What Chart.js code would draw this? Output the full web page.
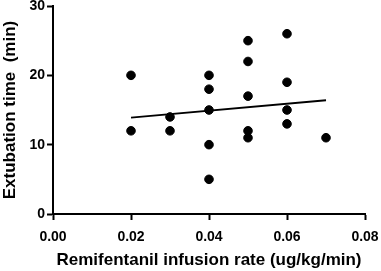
<!DOCTYPE html>
<html><head><meta charset="utf-8">
<script src="https://cdn.jsdelivr.net/npm/chart.js@4"></script>
<style>html,body{margin:0;padding:0;background:#fff}#wrap{width:381px;height:271px}</style>
</head><body><div id="wrap"><canvas id="c" width="381" height="271"></canvas></div>
<script>
const rates = [0.02,0.02,0.03,0.03,0.04,0.04,0.04,0.04,0.04,0.05,0.05,0.05,0.05,0.05,0.06,0.06,0.06,0.06,0.07];
const times = [20,12,14,12,20,18,15,10,5,25,22,17,12,11,26,19,15,13,11];
const fitX = [0.02,0.07];
const fitY = [13.9,16.4];
const xTickLabels = ['0.00','0.02','0.04','0.06','0.08'];
const yTickLabels = ['0','10','20','30'];
const xTitle = 'Remifentanil infusion rate (ug/kg/min)';
const yTitle = 'Extubation time  (min)';

const font = 'Arial, "Liberation Sans", sans-serif';
new Chart(document.getElementById('c'), {
  type: 'scatter',
  data: {
    datasets: [
      { data: rates.map((x,i)=>({x, y: times[i]})), backgroundColor:'#000', borderColor:'#000', pointRadius:4.3, pointHoverRadius:4.3 },
      { type:'line', data: fitX.map((x,i)=>({x, y: fitY[i]})), borderColor:'#000', borderWidth:2, pointRadius:0, fill:false }
    ]
  },
  options: {
    responsive:false, animation:false,
    layout:{ padding:{ top:6, right:16, left:0, bottom:0 } },
    plugins:{ legend:{display:false}, tooltip:{enabled:false} },
    scales:{
      x:{ type:'linear', min:0, max:0.08,
        afterBuildTicks: s => { s.ticks = xTickLabels.map(t=>({value:parseFloat(t)})); },
        ticks:{ callback:(v,i)=>xTickLabels[i], color:'#000', font:{family:font, size:14, weight:'bold'}, padding:9, maxRotation:0 },
        grid:{ drawOnChartArea:false, tickLength:6, tickColor:'#000', tickWidth:2 },
        border:{ color:'#000', width:2 },
        title:{ display:true, text:xTitle, color:'#000', font:{family:font, size:17, weight:'bold'}, padding:{top:4,bottom:0} },
        afterFit: s => { s.height = 57; s.paddingLeft = 0; s.paddingRight = 0; }
      },
      y:{ type:'linear', min:0, max:30,
        afterBuildTicks: s => { s.ticks = yTickLabels.map(t=>({value:parseFloat(t)})); },
        ticks:{ callback:(v,i)=>yTickLabels[i], color:'#000', font:{family:font, size:14, weight:'bold'}, padding:2 },
        grid:{ drawOnChartArea:false, tickLength:6, tickColor:'#000', tickWidth:2 },
        border:{ color:'#000', width:2 },
        title:{ display:true, text:yTitle, color:'#000', font:{family:font, size:17, weight:'bold'}, padding:{top:0,bottom:4} },
        afterFit: s => { s.width = 53; s.paddingTop = 0; s.paddingBottom = 0; }
      }
    }
  }
});
</script></body></html>
